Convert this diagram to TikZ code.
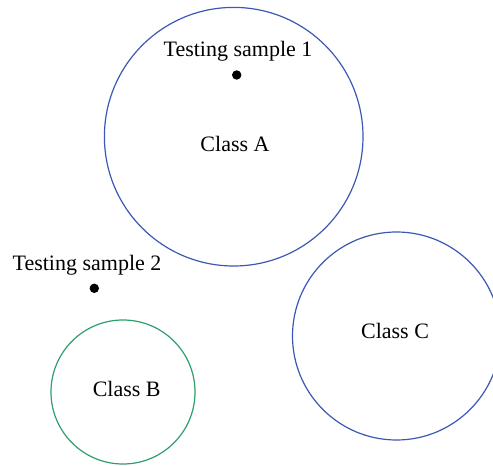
\documentclass[tikz,border=0pt]{standalone}
\usepackage{fontspec}
\setmainfont{Liberation Serif}
\definecolor{cblue}{RGB}{60,88,180}
\definecolor{cgreen}{RGB}{46,158,108}
\begin{document}
\begin{tikzpicture}[x=1pt,y=1pt,
  classcircle/.style={circle,draw,line width=1.2pt,inner sep=0pt},
  lbl/.style={font=\fontsize{22}{26}\selectfont,anchor=base,inner sep=0pt},
  sampledot/.style={circle,fill=black,inner sep=0pt,minimum size=9.4pt}]
\useasboundingbox (0,0) rectangle (493,466);
\clip (0,0) rectangle (493,466);
\node[classcircle,draw=cblue,minimum size=258.6pt] (A) at (233.7,329.3) {};
\node[classcircle,draw=cblue,minimum size=208pt] (C) at (396.5,130) {};
\node[classcircle,draw=cgreen,minimum size=144pt] (B) at (123,74) {};
\node[lbl] (la) at (235,314) {Class A};
\node[lbl] (lc) at (395,127) {Class C};
\node[lbl] (lb) at (126.7,69) {Class B};
\node[lbl] (t1) at (238,409) {Testing sample 1};
\node[lbl] (t2) at (87,195) {Testing sample 2};
\node[sampledot] (s1) at (236.7,391) {};
\node[sampledot] (s2) at (94.3,177.7) {};
\end{tikzpicture}
\end{document}
